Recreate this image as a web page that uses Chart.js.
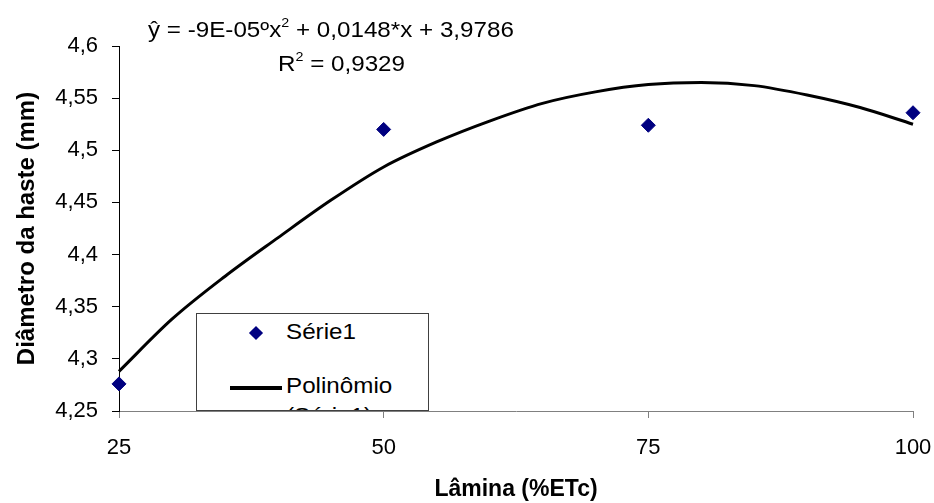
<!DOCTYPE html>
<html lang="pt">
<head>
<meta charset="utf-8">
<title>Diâmetro da haste</title>
<script src="https://cdn.jsdelivr.net/npm/chart.js@4.4.0/dist/chart.umd.min.js"></script>
<style>
  body { margin: 0; background: #fff; }
  #wrap { position: relative; width: 934px; height: 503px; font-family: 'Liberation Sans', Arial, sans-serif; }
  #chart { position: absolute; left: 0; top: 0; }
  .txt { position: absolute; font-size: 22px; line-height: 22px; white-space: nowrap; color: #000;
         transform: scaleX(1.1); transform-origin: 0 0; }
  .txt sup { font-size: 13px; line-height: 0; position: relative; top: -2px; }
  #legend { position: absolute; left: 196px; top: 313px; width: 231px; height: 96px;
            border: 1px solid #404040; background: #fff; overflow: hidden; }
  #legend .mark { position: absolute; left: 54px; top: 14px; width: 10px; height: 10px;
                  background: #000080; transform: rotate(45deg); }
  #legend .lineSample { position: absolute; left: 33px; top: 72px; width: 52px; height: 4px; background: #000; }
</style>
</head>
<body>
<div id="wrap">
  <canvas id="chart" width="934" height="503"></canvas>
  <div class="txt" style="left:148px; top:19px;">ŷ = -9E-05ºx<sup>2</sup> + 0,0148*x + 3,9786</div>
  <div class="txt" style="left:278px; top:53px;">R<sup>2</sup> = 0,9329</div>
  <div id="legend">
    <div class="mark"></div>
    <div class="txt" style="left:89px; top:7px;">Série1</div>
    <div class="lineSample"></div>
    <div class="txt" style="left:89px; top:61px;">Polinômio</div>
    <div class="txt" style="left:89px; top:91px;">(Série1)</div>
  </div>
</div>
<script>
const FONT = "'Liberation Sans', Arial, sans-serif";

/* --- DATA --- */
const xTicks = [25, 50, 75, 100];
const xTickLabels = ['25', '50', '75', '100'];
const yTicks = [4.25, 4.3, 4.35, 4.4, 4.45, 4.5, 4.55, 4.6];
const yTickLabels = ['4,25', '4,3', '4,35', '4,4', '4,45', '4,5', '4,55', '4,6'];

// Série1 (observed)
const laminaX = [25, 50, 75, 100];
const diametroY = [4.276, 4.520, 4.524, 4.536];

// Polinômio (Série1)
const trendX = [25, 30, 35, 40, 45, 50, 55, 60, 65, 70, 75, 80, 85, 90, 95, 100];
const trendY = [4.288, 4.338, 4.379, 4.416, 4.452, 4.484, 4.508, 4.528, 4.545, 4.556, 4.563, 4.565, 4.562, 4.553, 4.541, 4.525];

const ctx = document.getElementById('chart').getContext('2d');

new Chart(ctx, {
    type: 'scatter',
    data: {
        datasets: [
            {
                label: 'Série1',
                data: laminaX.map((x, i) => ({ x: x, y: diametroY[i] })),
                pointStyle: 'rectRot',
                pointRadius: 7,
                backgroundColor: '#000080',
                borderColor: '#000080',
                borderWidth: 1,
                showLine: false,
                clip: false,
                order: 0
            },
            {
                label: 'Polinômio (Série1)',
                data: trendX.map((x, i) => ({ x: x, y: trendY[i] })),
                showLine: true,
                pointRadius: 0,
                borderColor: '#000',
                borderWidth: 3,
                cubicInterpolationMode: 'monotone',
                clip: false,
                order: 1
            }
        ]
    },
    options: {
        responsive: false,
        animation: false,
        devicePixelRatio: 1,
        layout: { padding: { left: 0, right: 21, top: 46, bottom: 0 } },
        plugins: {
            legend: { display: false },
            tooltip: { enabled: false }
        },
        scales: {
            x: {
                type: 'linear',
                min: 25,
                max: 100,
                afterBuildTicks: (s) => { s.ticks = xTicks.map(v => ({ value: v })); },
                afterFit: (s) => { s.height = 92; s.paddingLeft = 0; s.paddingRight = 0; },
                ticks: {
                    callback: (v, i) => xTickLabels[i],
                    font: { size: 22, family: FONT },
                    color: '#000',
                    padding: 17,
                    maxRotation: 0,
                    autoSkip: false
                },
                grid: { drawOnChartArea: false, tickLength: 7, color: '#808080' },
                border: { color: '#808080', width: 1 },
                title: {
                    display: true,
                    text: 'Lâmina (%ETc)',
                    font: { size: 23, weight: 'bold', family: FONT },
                    color: '#000',
                    padding: { top: 0, bottom: 0 }
                }
            },
            y: {
                type: 'linear',
                min: 4.25,
                max: 4.6,
                afterBuildTicks: (s) => { s.ticks = yTicks.map(v => ({ value: v })); },
                afterFit: (s) => { s.width = 119; s.paddingTop = 0; s.paddingBottom = 0; },
                ticks: {
                    callback: (v, i) => yTickLabels[i],
                    font: { size: 22, family: FONT },
                    color: '#000',
                    padding: 14,
                    autoSkip: false
                },
                grid: { drawOnChartArea: false, tickLength: 7, color: '#000' },
                border: { color: '#000', width: 1 },
                title: {
                    display: true,
                    text: 'Diâmetro da haste (mm)',
                    font: { size: 24, weight: 'bold', family: FONT },
                    color: '#000',
                    padding: { top: 13, bottom: 0 }
                }
            }
        }
    }
});
</script>
</body>
</html>
